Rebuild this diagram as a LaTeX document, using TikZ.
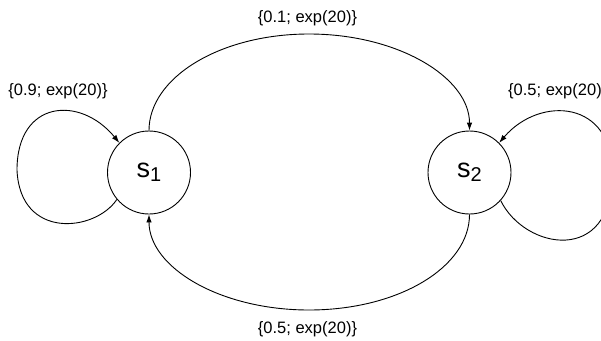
\documentclass[tikz,border=0pt]{standalone}
\usepackage{fontspec}
\setmainfont{Liberation Sans}
\usetikzlibrary{arrows.meta}

\tikzset{
  state/.style={circle, draw, line width=0.9pt, minimum size=83pt, inner sep=0pt},
  edge/.style={line width=0.9pt, -{Latex[length=8pt,width=5.5pt]}},
  rate/.style={inner sep=0pt, font=\fontsize{16.5}{19}\selectfont},
}
\newcommand{\statelabel}[1]{{\fontsize{27}{30}\selectfont s\raisebox{-4pt}{\fontsize{20}{22}\selectfont #1}}}

\begin{document}
\begin{tikzpicture}[x=1pt, y=-1pt]
  \useasboundingbox (0,0) rectangle (601,340);
  \clip (0,0) rectangle (601,340);

  % the two states
  \node[state] (s1) at (149,172.5) {\statelabel{1}};
  \node[state] (s2) at (469.5,172.5) {\statelabel{2}};

  % transitions between the states
  \coordinate (topmid) at (309,34);
  \coordinate (botmid) at (309,310);
  \draw[edge] (s1.north) .. controls +(0,-53) and +(-89,0) .. (topmid)
                         .. controls +(89,0) and +(0,-53) .. (s2.north);
  \draw[edge] (s2.south) .. controls +(0,53) and +(89,0) .. (botmid)
                         .. controls +(-89,0) and +(0,53) .. (s1.south);

  % self loops
  \coordinate (l1) at (17,170);
  \coordinate (l2) at (612,175);
  \draw[edge] (s1.220) .. controls (95,232) and (20,240) .. (l1)
                       .. controls (17,100) and (80,95) .. (s1.135);
  \draw[edge] (s2.318) .. controls (525,250) and (612,265) .. (l2)
                       .. controls (614,100) and (540,95) .. (s2.45);

  % rates
  \node[rate] (r12) at (307.5,18) {\{0.1; exp(20)\}};
  \node[rate] (r21) at (307.5,329) {\{0.5; exp(20)\}};
  \node[rate] (r11) at (58,91) {\{0.9; exp(20)\}};
  \node[rate, anchor=west] (r22) at (508,91) {\{0.5; exp(20)\}};
\end{tikzpicture}
\end{document}
